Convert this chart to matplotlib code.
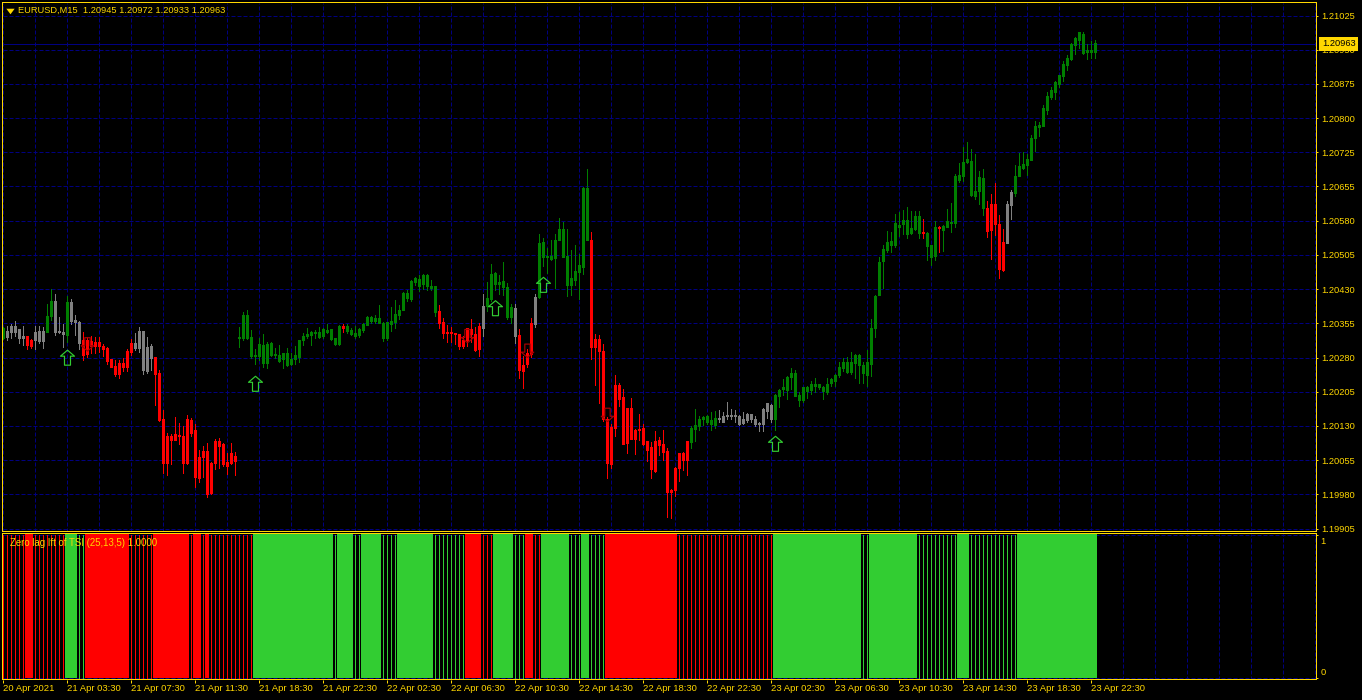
import matplotlib
matplotlib.use("Agg")
import matplotlib.pyplot as plt
from matplotlib.path import Path
from matplotlib.markers import MarkerStyle
from matplotlib.transforms import ScaledTranslation

# prices are stored as points (1e-5) above 1.20000
body_top = [342,336,345,345,340,325,325,316,334,336,
 336,368,401,401,336,334,399,399,360,354,
 315,316,313,312,312,303,297,273,259,265,
 265,292,309,309,336,336,301,303,278,243,
 142,105,107,111,109,107,142,140,118,61,
 74,74,46,94,94,89,50,68,63,322,
 371,371,323,283,307,305,307,309,284,283,
 288,288,275,283,316,325,329,334,333,334,
 340,338,339,320,345,345,345,338,331,340,
 351,366,366,364,364,353,355,358,373,382,
 419,419,445,451,449,458,458,434,434,379,
 355,334,334,331,329,316,342,340,329,345,
 390,408,460,462,443,445,432,388,386,327,
 262,287,353,410,528,530,499,499,534,558,
 558,499,451,467,480,648,648,534,318,318,
 292,144,126,218,218,192,168,166,120,122,
 124,94,81,94,98,89,74,-13,37,68,
 68,94,124,129,144,148,150,140,146,146,
 150,152,152,152,150,142,155,155,144,135,
 164,177,174,196,207,212,235,244,244,196,
 212,212,220,220,220,212,220,231,240,257,
 268,268,268,283,283,260,268,342,412,486,
 515,530,532,571,567,578,578,560,587,587,
 552,550,523,563,563,565,576,574,674,676,
 704,711,707,641,672,669,604,613,613,569,
 530,613,639,674,696,700,711,757,783,785,
 822,848,861,879,894,918,931,962,975,988,
 984,949,949,963]
body_bottom = [319,322,332,332,319,319,305,303,315,314,
 313,334,367,334,334,328,326,357,354,310,
 283,286,303,303,303,296,270,257,242,242,
 257,257,290,299,297,251,248,277,242,140,
 46,47,98,98,105,47,46,113,17,15,
 59,-20,-18,46,85,44,41,48,52,320,
 320,320,281,280,281,265,265,283,283,270,
 273,261,262,273,279,316,325,327,331,322,
 325,334,318,307,307,342,336,329,325,327,
 338,349,356,358,353,320,320,351,355,371,
 382,408,406,443,434,438,433,430,377,353,
 331,331,331,328,303,303,316,328,294,296,
 342,390,406,438,438,431,366,366,325,251,
 248,264,286,351,410,497,497,493,495,534,
 497,436,436,447,465,475,534,301,301,291,
 142,46,44,124,187,89,91,100,100,118,
 89,76,33,30,87,72,-17,-17,-13,35,
 54,54,92,122,127,142,137,131,129,144,
 137,150,150,150,133,135,140,142,133,133,
 133,161,142,142,194,209,207,235,194,185,
 185,205,207,216,212,205,203,222,227,238,
 255,246,246,266,260,243,240,264,342,414,
 488,512,523,523,563,569,547,550,558,550,
 550,521,497,499,561,556,563,571,571,665,
 674,704,632,630,641,604,554,556,569,471,
 469,528,611,637,674,691,698,709,757,781,
 783,818,846,857,874,892,916,929,960,970,
 942,945,945,945]
high = [345,347,351,357,340,348,325,319,348,347,
 345,395,427,416,367,352,412,405,371,357,
 334,323,325,323,323,307,302,274,274,273,
 278,296,318,332,345,336,323,307,278,251,
 163,113,111,149,136,129,153,147,134,76,
 85,91,51,101,102,91,69,91,72,345,
 377,382,338,297,320,329,313,313,300,305,
 289,299,289,303,316,331,342,337,338,345,
 342,351,339,322,349,351,351,342,347,342,
 354,369,369,371,393,355,355,388,403,393,
 421,425,447,454,458,460,460,447,434,393,
 364,349,345,331,329,325,342,363,345,353,
 418,444,482,465,458,486,440,395,396,340,
 281,298,364,418,547,539,517,534,547,582,
 574,560,514,523,504,651,689,552,329,327,
 307,149,134,240,222,209,168,190,122,155,
 134,96,94,118,105,120,81,-9,40,70,
 72,96,129,166,150,150,153,159,161,163,
 160,181,165,163,152,159,158,155,150,137,
 168,177,177,198,210,231,238,255,251,203,
 212,216,227,233,220,216,233,233,242,268,
 277,279,290,286,286,268,294,362,414,497,
 523,554,552,591,595,600,606,598,598,598,
 580,552,523,576,565,567,602,615,678,704,
 737,748,733,722,685,689,619,635,659,589,
 558,619,643,698,724,726,722,765,794,792,
 829,857,870,881,896,925,938,964,979,990,
 990,962,970,972]
low = [319,316,320,325,310,305,296,299,297,310,
 299,334,360,327,332,302,312,351,327,296,
 273,280,289,289,290,281,264,257,238,233,
 249,249,283,294,290,242,245,251,174,140,
 27,22,46,98,89,27,46,107,-4,6,
 17,-26,-20,34,38,41,24,46,22,302,
 316,318,278,264,273,258,255,281,278,269,
 255,259,261,264,269,306,320,306,320,320,
 322,331,316,306,305,334,332,328,322,323,
 335,349,354,353,353,314,316,337,342,363,
 382,402,402,436,423,427,425,425,369,342,
 320,312,312,307,297,300,303,312,293,281,
 325,379,401,425,418,414,363,353,309,233,
 212,257,280,345,408,478,462,491,430,534,
 497,412,414,436,406,460,534,275,218,178,
 140,15,37,107,172,89,70,100,68,98,
 87,52,15,28,65,54,-69,-73,-25,9,
 33,22,81,96,120,131,134,120,124,137,
 137,145,145,137,131,133,137,137,129,118,
 118,146,137,120,171,196,187,209,194,172,
 181,190,198,203,209,187,198,216,216,235,
 249,244,242,233,222,222,216,238,323,414,
 430,508,508,519,543,547,539,547,556,539,
 539,491,480,491,508,510,563,552,563,661,
 663,702,630,624,613,589,541,493,545,451,
 467,528,580,632,674,689,676,709,730,763,
 783,809,842,842,868,883,907,927,942,953,
 940,929,933,933]

candle_runs = [("g",1),("a",5),("r",2),("a",3),("g",2),("a",3),("g",1),("a",3),("r",13),("a",5),("r",21),
 ("g",26),("r",1),("g",23),("r",11),("a",1),("g",7),("a",1),("r",4),("a",1),("g",13),("r",25),("g",7),
 ("a",14),("g",37),("r",1),("g",3),("r",1),("g",11),("r",5),("a",2),("g",21)]

# indicator panel: (colour state, solid?, number of bars)
hist_runs = [("r",0,6),("r",1,2),("r",0,8),("g",1,3),("g",0,2),("r",1,11),("r",0,6),("r",1,9),("r",0,1),("r",1,2),
 ("r",0,1),("r",1,1),("r",0,11),("g",1,20),("g",0,1),("g",1,4),("g",0,2),("g",1,5),("g",0,4),("g",1,9),
 ("g",0,8),("r",1,4),("r",0,3),("g",1,5),("g",0,3),("r",1,2),("r",0,2),("g",1,7),("g",0,3),("g",1,2),
 ("g",0,4),("r",1,18),("r",0,24),("g",1,22),("g",0,2),("g",1,12),("g",0,10),("g",1,3),("g",0,12),("g",1,20)]

up_idx = [16, 63, 123, 135, 193]
up_pts = [278, 221, 386, 437, 90]
down_idx = [21, 116, 131, 151]
down_pts = [307, 325, 293, 153]

price_ticks = [1025, 950.3, 875.7, 801, 726.3, 651.7, 577, 502.3, 427.7, 353, 278.3, 203.7, 129, 54.3, -20.3, -95]
price_labels = ["1.21025","1.20950","1.20875","1.20800","1.20725","1.20655","1.20580","1.20505","1.20430",
                "1.20355","1.20280","1.20205","1.20130","1.20055","1.19980","1.19905"]
time_labels = ["20 Apr 2021","21 Apr 03:30","21 Apr 07:30","21 Apr 11:30","21 Apr 18:30","21 Apr 22:30",
               "22 Apr 02:30","22 Apr 06:30","22 Apr 10:30","22 Apr 14:30","22 Apr 18:30","22 Apr 22:30",
               "23 Apr 02:30","23 Apr 06:30","23 Apr 10:30","23 Apr 14:30","23 Apr 18:30","23 Apr 22:30"]
current_pts = 963

GOLD = "#FFD700"
NAVY = "#000080"
COLORS = {"g": "#007F00", "r": "#FF0000", "a": "#808080"}
HIST = {"g": "#32CD32", "r": "#FF0000"}
FONT = "Liberation Sans"
W, H = 1362, 700
PX = 0.72

def prc(v):
    return 1.2 + v / 1e5

def axes_px(fig, l, t, r, b):
    return fig.add_axes([l / W, 1 - b / H, (r - l) / W, (b - t) / H])

fig = plt.figure(figsize=(W / 100, H / 100), dpi=100, facecolor="black")
ax = axes_px(fig, 2.5, 2.5, 1316.5, 531.5)
sub = axes_px(fig, 2.5, 533.5, 1316.5, 679.5)
xlim = (-0.2475, 328.2525)
dash = (0, (4, 2))

for a in (ax, sub):
    a.set_facecolor("black")
    a.set_xlim(*xlim)
    for s in a.spines.values():
        s.set_color(GOLD)
        s.set_linewidth(PX)
        s.set_snap(False)
        s.set_zorder(9)
    a.yaxis.tick_right()
    a.tick_params(colors=GOLD, width=PX)
    a.set_axisbelow(True)
    a.set_xticks(range(0, 329, 8), minor=True)
    a.grid(True, which="minor", axis="x", color=NAVY, lw=PX, ls=dash)
    a.tick_params(axis="x", which="minor", length=0)

# main chart
ax.set_ylim(prc(-101.5), prc(1053.4))
ax.set_yticks([prc(v) for v in price_ticks])
ax.set_yticklabels(price_labels, fontfamily=FONT, fontsize=6.7, color=GOLD)
ax.tick_params(axis="y", length=2 * PX, pad=2)
ax.grid(True, which="major", axis="y", color=NAVY, lw=PX, ls=dash)
ax.set_xticks([])
ax.axhline(prc(current_pts), color=NAVY, lw=PX, zorder=1)

states = [c for c, n in candle_runs for _ in range(n)]
for code, col in COLORS.items():
    idx = [i for i, s in enumerate(states) if s == code]
    ax.vlines(idx, [prc(low[i]) for i in idx], [prc(high[i]) for i in idx], color=col, lw=PX, zorder=3,
              antialiased=False, snap=True)
    bars = ax.bar(idx, [(max(body_top[i] - body_bottom[i], 2.2)) / 1e5 for i in idx], width=0.74,
                  bottom=[prc(body_bottom[i]) for i in idx], color=col, lw=0, zorder=4, antialiased=False)
    for b in bars:
        b.set_snap(False)

arrow_v = [(0, 7.5), (7, 1.5), (3, 1.5), (3, -7.5), (-3, -7.5), (-3, 1.5), (-7, 1.5), (0, 7.5)]
up_path = Path(arrow_v, closed=True)
down_path = Path([(x, -y) for x, y in arrow_v], closed=True)
s = (15 * PX) ** 2
ax.scatter(up_idx, [prc(v) for v in up_pts], marker=MarkerStyle(up_path), s=s, facecolors="none",
           edgecolors="#32CD32", linewidths=0.85, zorder=6)
ax.scatter(down_idx, [prc(v) for v in down_pts], marker=MarkerStyle(down_path), s=s * 0.8, facecolors="none",
           edgecolors="#A80000", linewidths=0.85, zorder=6)

ax.text((18 - 2.5) / 1314, 1 - (10.5 - 2.5) / 529, "EURUSD,M15  1.20945 1.20972 1.20933 1.20963", transform=ax.transAxes,
        color=GOLD, fontfamily=FONT, fontsize=6.65, va="center", ha="left")
ax.plot([(9.7 - 2.5) / 1314], [1 - (10.8 - 2.5) / 529], marker=Path([(-3, 2), (3, 2), (0, -2), (-3, 2)], closed=True),
        ms=6, color=GOLD, mew=0, transform=ax.transAxes, zorder=7)

# current price tag
ax.annotate(f"{prc(current_pts):.5f}", xy=(1, prc(current_pts)), xycoords=("axes fraction", "data"),
            xytext=(3.96, 0), textcoords="offset points", color="black", fontfamily=FONT, fontsize=6.7,
            va="center", ha="left", annotation_clip=False, zorder=10,
            bbox=dict(boxstyle="square,pad=0.3", fc=GOLD, ec=GOLD, lw=0))

# indicator panel
sub.set_ylim(-0.011, 1.0075)
sub.set_yticks([0, 1])
sub.set_yticklabels(["", ""])
sub.tick_params(axis="y", length=2 * PX)
sub.grid(True, which="major", axis="y", color=NAVY, lw=PX, ls=dash)
sub.set_xticks(range(0, 273, 16))
sub.set_xticklabels(time_labels, fontfamily=FONT, fontsize=6.8, color=GOLD, ha="left")
shift = ScaledTranslation(-1.6 / 100, 0, fig.dpi_scale_trans)
for lab in sub.get_xticklabels():
    lab.set_transform(lab.get_transform() + shift)
sub.tick_params(axis="x", which="major", length=3 * PX, pad=1.4)

pos = 0
for state, solid, count in hist_runs:
    idx = list(range(pos, pos + count))
    if solid:
        bars = sub.bar([i - 0.111 for i in idx], [1] * count, width=0.9725, color=HIST[state], lw=0, zorder=3, antialiased=False)
        for b in bars:
            b.set_snap(False)
    else:
        sub.vlines(idx, 0, 1, color=HIST[state], lw=PX, zorder=3, antialiased=False, snap=True)
    pos += count

for txt, yv, off in (("1", 1, -7), ("0", 0, 5.5)):
    sub.annotate(txt, xy=(1, yv), xycoords=("axes fraction", "data"), xytext=(2.7, off * PX),
                 textcoords="offset points", color=GOLD, fontfamily=FONT, fontsize=6.7,
                 va="center", ha="left", annotation_clip=False)

sub.text((10 - 2.5) / 1314, 1 - (542.5 - 533.5) / 146, "Zero lag Ift of TSI (25,13,5) 1.0000", transform=sub.transAxes,
         color=GOLD, fontfamily=FONT, fontsize=6.9, va="center", ha="left", zorder=8)

fig.savefig("out.png", dpi=100, facecolor="black")
